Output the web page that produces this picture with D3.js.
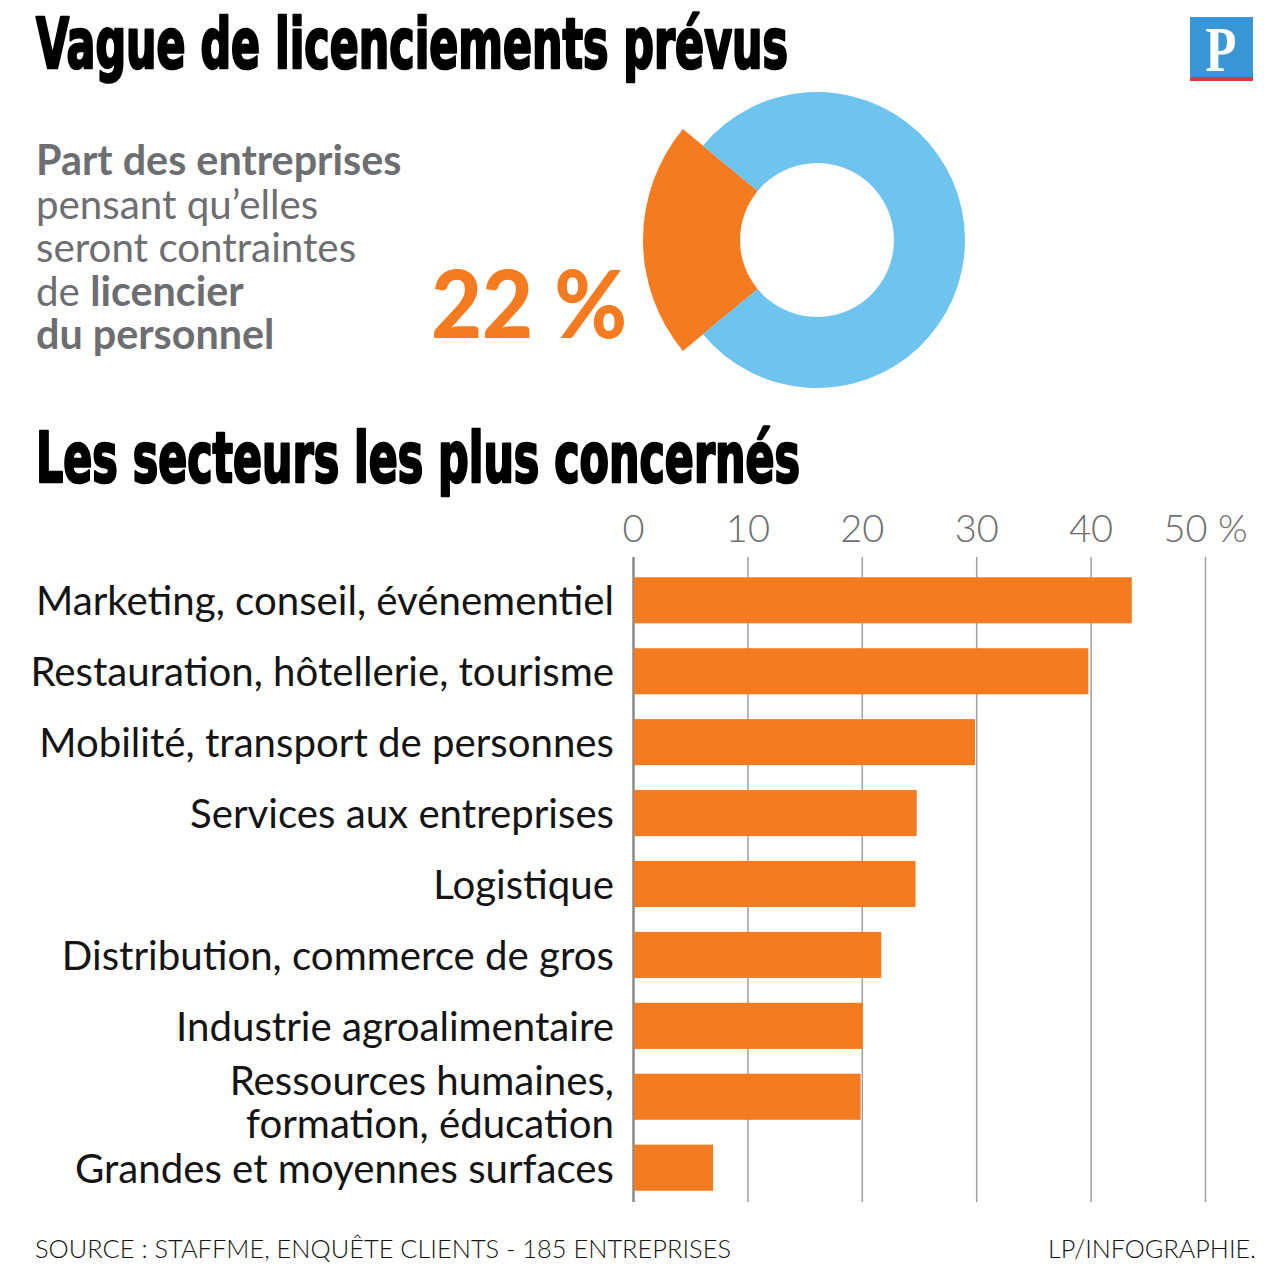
<!DOCTYPE html>
<html>
<head>
<meta charset="utf-8">
<script src="https://cdn.jsdelivr.net/npm/d3@7"></script>
<style>
  html, body { margin: 0; padding: 0; background: #fff; }
  svg { display: block; }
</style>
</head>
<body>
<script>
// ---------- DATA ----------
const categories = [
  "Marketing, conseil, événementiel",
  "Restauration, hôtellerie, tourisme",
  "Mobilité, transport de personnes",
  "Services aux entreprises",
  "Logistique",
  "Distribution, commerce de gros",
  "Industrie agroalimentaire",
  "Ressources humaines,\nformation, éducation",
  "Grandes et moyennes surfaces"
];
const values = [43.6, 39.8, 29.9, 24.8, 24.7, 21.7, 20.1, 19.9, 7.0];
const tickValues = [0, 10, 20, 30, 40, 50];
const tickLabels = ["0", "10", "20", "30", "40", "50 %"];
const donutLabels = ["licencier", "autres"];
const donutValues = [22, 78];
const donutText = "22 %";
const title1 = "Vague de licenciements prévus";
const title2 = "Les secteurs les plus concernés";
const sourceText = "SOURCE : STAFFME, ENQUÊTE CLIENTS - 185 ENTREPRISES";
const creditText = "LP/INFOGRAPHIE.";

// ---------- STYLE ----------
const ORANGE = "#f47b20";
const BLUE = "#6ec3ef";
const GRAY = "#6d6e71";
const INK = "#141414";
const LABEL_FONT = "Lato, 'Open Sans', sans-serif";
const TITLE_FONT = "'Liberation Sans Narrow', 'DejaVu Sans Condensed', 'Arial Narrow', sans-serif";

const W = 1280, H = 1280;
const svg = d3.select("body").append("svg").attr("width", W).attr("height", H);
svg.append("rect").attr("width", W).attr("height", H).attr("fill", "#fff");

// ---------- TITLES ----------
function title(txt, yPos, len) {
  svg.append("text")
    .attr("x", 36).attr("y", yPos)
    .attr("font-family", TITLE_FONT).attr("font-weight", 700)
    .attr("font-size", 70).attr("fill", "#000")
    .attr("stroke", "#000").attr("stroke-width", 2.6).attr("stroke-linejoin", "round")
    .attr("textLength", len).attr("lengthAdjust", "spacingAndGlyphs")
    .text(txt);
}
title(title1, 68, 752);
title(title2, 482, 764);

// ---------- LOGO ----------
const logo = svg.append("g").attr("transform", "translate(1190,17)");
logo.append("rect").attr("width", 63).attr("height", 60).attr("fill", "#3a97d6");
logo.append("rect").attr("y", 60).attr("width", 63).attr("height", 4).attr("fill", "#e2373f");
logo.append("text")
  .attr("x", 31).attr("y", 54)
  .attr("text-anchor", "middle")
  .attr("font-family", "'Liberation Serif', 'DejaVu Serif', serif")
  .attr("font-weight", 700).attr("font-size", 64).attr("fill", "#fff")
  .attr("transform", "translate(31,0) scale(0.8,1) translate(-31,0)")
  .text("P");

// ---------- LEFT TEXT BLOCK (one text element, one tspan run per line) ----------
const intro = [
  [{t: "Part des entreprises", b: true}],
  [{t: "pensant qu’elles", b: false}],
  [{t: "seront contraintes", b: false}],
  [{t: "de ", b: false}, {t: "licencier", b: true}],
  [{t: "du personnel", b: true}]
];
const introText = svg.append("text")
  .attr("font-family", LABEL_FONT).attr("fill", GRAY);
intro.forEach((line, i) => {
  line.forEach((seg, k) => {
    const ts = introText.append("tspan")
      .attr("font-weight", seg.b ? 700 : 400)
      .attr("font-size", seg.b ? 41.3 : 40.3)
      .text(seg.t);
    if (k === 0) ts.attr("x", 36).attr("y", 175 + i * 43.5);
  });
});

// ---------- DONUT ----------
const cx = 817, cy = 240;
const share = donutValues[0] / d3.sum(donutValues);
const a0 = 1.5 * Math.PI - share * Math.PI;
const pie = d3.pie().sort(null).startAngle(a0).endAngle(a0 + 2 * Math.PI);
const arcs = pie(donutValues);
const arcBig = d3.arc().innerRadius(77).outerRadius(174);
const arcNorm = d3.arc().innerRadius(77).outerRadius(148);
const donutG = svg.append("g").attr("transform", `translate(${cx},${cy})`);
donutG.selectAll("path").data(arcs).join("path")
  .attr("d", (d, i) => i === 0 ? arcBig(d) : arcNorm(d))
  .attr("fill", (d, i) => i === 0 ? ORANGE : BLUE);

svg.append("text")
  .attr("x", 431).attr("y", 338)
  .attr("font-family", LABEL_FONT).attr("font-weight", 900)
  .attr("font-size", 94).attr("fill", ORANGE)
  .attr("textLength", 196).attr("lengthAdjust", "spacingAndGlyphs")
  .text(donutText);

// ---------- BAR CHART ----------
const x = d3.scaleLinear().domain([0, 50]).range([633, 1205]);
const y = d3.scaleBand().domain(categories).range([556, 1212])
  .paddingInner(0.35).paddingOuter(0.3);

const axisG = svg.append("g").attr("transform", "translate(0,557)")
  .call(d3.axisTop(x).tickValues(tickValues)
    .tickSize(-645).tickPadding(15)
    .tickFormat((d, i) => tickLabels[i]));
axisG.select(".domain").remove();
axisG.selectAll(".tick line")
  .attr("stroke", "#a0a0a0").attr("stroke-width", 1.5);
axisG.selectAll(".tick").filter(d => d === 0).select("line")
  .attr("stroke", "#8a8a8a").attr("stroke-width", 2.5);
axisG.selectAll(".tick text")
  .attr("font-family", LABEL_FONT).attr("font-weight", 300)
  .attr("font-size", 38).attr("fill", GRAY);

svg.append("g").selectAll("rect").data(categories).join("rect")
  .attr("x", x(0) + 1)
  .attr("y", d => y(d))
  .attr("width", (d, i) => x(values[i]) - x(0) - 1)
  .attr("height", y.bandwidth())
  .attr("fill", ORANGE);

const labelG = svg.append("g");
categories.forEach(c => {
  const lines = c.split("\n");
  const mid = y(c) + y.bandwidth() / 2;
  const t = labelG.append("text")
    .attr("text-anchor", "end")
    .attr("font-family", LABEL_FONT).attr("font-weight", 400)
    .attr("font-size", 40.2).attr("fill", INK);
  if (lines.length === 1) {
    t.append("tspan").attr("x", 614).attr("y", mid + 15).text(lines[0]);
  } else {
    lines.forEach((l, j) => {
      t.append("tspan").attr("x", 614).attr("y", mid - 2 + j * 43).text(l);
    });
  }
});

// ---------- FOOTER ----------
svg.append("text")
  .attr("x", 35).attr("y", 1258)
  .attr("font-family", LABEL_FONT).attr("font-weight", 300)
  .attr("font-size", 26).attr("fill", INK)
  .attr("textLength", 696).attr("lengthAdjust", "spacingAndGlyphs")
  .text(sourceText);
svg.append("text")
  .attr("x", 1256).attr("y", 1258)
  .attr("text-anchor", "end")
  .attr("font-family", LABEL_FONT).attr("font-weight", 300)
  .attr("font-size", 26).attr("fill", INK)
  .attr("textLength", 208).attr("lengthAdjust", "spacingAndGlyphs")
  .text(creditText);
</script>
</body>
</html>
